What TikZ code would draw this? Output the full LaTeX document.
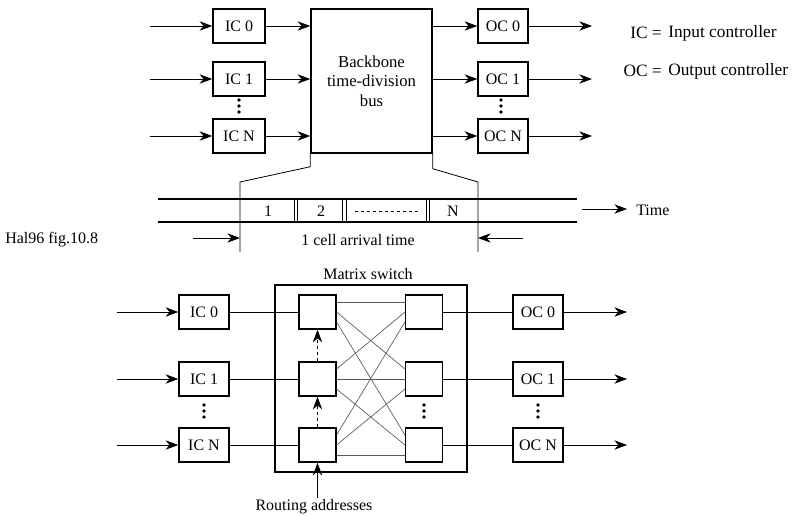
\documentclass[tikz,border=0pt]{standalone}
\usepackage{fontspec}
\setmainfont{Liberation Serif}
\usetikzlibrary{arrows.meta}
\begin{document}
\begin{tikzpicture}[x=0.75pt,y=-0.75pt,
  box/.style={draw,line width=1.1pt,inner sep=0pt,minimum height=25.5pt,font=\fontsize{12}{14}\selectfont},
  icbox/.style={box,minimum width=39pt},
  ocbox/.style={box,minimum width=37.5pt},
  swbox/.style={box,minimum width=27.5pt},
  arr/.style={-{Stealth[length=9.5pt,width=7pt,inset=3pt]},line width=0.6pt},
  thinl/.style={line width=0.6pt},
  thickl/.style={line width=1.1pt},
  mx/.style={line width=0.5pt,draw=black!65},
  lbl/.style={font=\fontsize{12}{14}\selectfont,inner sep=0pt},
  lgd/.style={font=\fontsize{13}{15}\selectfont,inner sep=0pt},
  dsh/.style={dash pattern=on 2.5pt off 2pt}
]
\useasboundingbox (0,0) rectangle (796,516);

% ---------- top: backbone bus ----------
\node[icbox] (tic0) at (239,26) {IC 0};
\node[icbox] (tic1) at (239,79) {IC 1};
\node[icbox] (ticN) at (239,136) {IC N};
\node[box,minimum width=90.75pt,minimum height=108pt,align=center,font=\fontsize{12.5}{14.5}\selectfont] (bus) at (371.5,81) {Backbone\\time-division\\bus};
\node[ocbox] (toc0) at (503,26) {OC 0};
\node[ocbox] (toc1) at (503,79) {OC 1};
\node[ocbox] (tocN) at (503,136) {OC N};

\foreach \n/\y in {0/26,1/79,N/136}{
  \coordinate (tin\n) at (150,\y);
  \coordinate (tout\n) at (592,\y);
  \draw[arr] (tin\n) -- (tic\n);
  \draw[arr] (tic\n.east) -- (tic\n.east -| bus.west);
  \draw[arr] (toc\n.west -| bus.east) -- (toc\n.west);
  \draw[arr] (toc\n) -- (tout\n);
}
\foreach \x in {239,501}{
  \foreach \y in {100,106,112} \fill (\x,\y) circle (1.4pt);
}

% legend
\node[lgd,anchor=east] (lgic) at (662,33) {IC =};
\node[lgd,anchor=west] (lgict) at (668,33) {Input controller};
\node[lgd,anchor=east] (lgoc) at (662,71) {OC =};
\node[lgd,anchor=west] (lgoct) at (668,71) {Output controller};

% time bar
\draw[thickl] (158,199) -- (577,199);
\draw[thickl] (158,222) -- (577,222);
\draw[thinl] (bus.south west) -- ++(0,13) -- (240,182) -- (240,252);
\draw[thinl] (bus.south east) -- ++(0,15) -- (478,182) -- (478,252);
\foreach \x in {294,297,342,346,426,429}
  \draw[thinl] (\x,199) -- (\x,222);
\node[lbl] (c1) at (268,211) {1};
\node[lbl] (c2) at (321,211) {2};
\node[lbl] (cN) at (453,211) {N};
\draw[thinl,dsh] (355,211) -- (421,211);
\coordinate (ts) at (582,209);
\coordinate (te) at (627,209);
\draw[arr] (ts) -- (te);
\node[lbl,anchor=west] (time) at (636,210) {Time};
\coordinate (aLs) at (193,238);
\coordinate (aLe) at (240,238);
\coordinate (aRs) at (523,238);
\coordinate (aRe) at (478,238);
\draw[arr] (aLs) -- (aLe);
\draw[arr] (aRs) -- (aRe);
\node[lbl] (arrival) at (358,240) {1 cell arrival time};
\node[lbl,anchor=west] (hal) at (5,240) {Hal96 fig.10.8};

% ---------- bottom: matrix switch ----------
\node[draw,thickl,inner sep=0pt,minimum width=144pt,minimum height=140.25pt] (mbox) at (371,378.5) {};
\node[lbl] (mlbl) at (368,274) {Matrix switch};
\foreach \n/\y in {0/312,1/379,2/445}{
  \node[icbox,minimum width=37.5pt] (bic\n) at (204,\y) {\ifnum\n=2 IC N\else IC \n\fi};
  \node[swbox] (L\n) at (317.5,\y) {};
  \node[swbox] (R\n) at (424,\y) {};
  \node[ocbox] (boc\n) at (538,\y) {\ifnum\n=2 OC N\else OC \n\fi};
  \coordinate (bin\n) at (117,\y);
  \coordinate (bout\n) at (627,\y);
  \draw[arr] (bin\n) -- (bic\n);
  \draw[thinl] (bic\n) -- (L\n);
  \draw[thinl] (R\n) -- (boc\n);
  \draw[arr] (boc\n) -- (bout\n);
}
\foreach \i in {0,1,2}{
  \foreach \j in {0,1,2}{
    \pgfmathsetmacro{\lo}{-(\j-1)*7.5}
    \pgfmathsetmacro{\ro}{-(\i-1)*7.5}
    \draw[mx] ([yshift=\lo pt]L\i.east) -- ([yshift=\ro pt]R\j.west);
  }
}
\foreach \x in {204,424,538}{
  \foreach \y in {405,411,417} \fill (\x,\y) circle (1.4pt);
}
\draw[arr,dsh] (L2) -- (L1);
\draw[arr,dsh] (L1) -- (L0);
\coordinate (ra) at (317.5,498);
\draw[arr] (ra) -- (L2);
\node[lbl] (rlbl) at (314,507) {Routing addresses};
\end{tikzpicture}
\end{document}
